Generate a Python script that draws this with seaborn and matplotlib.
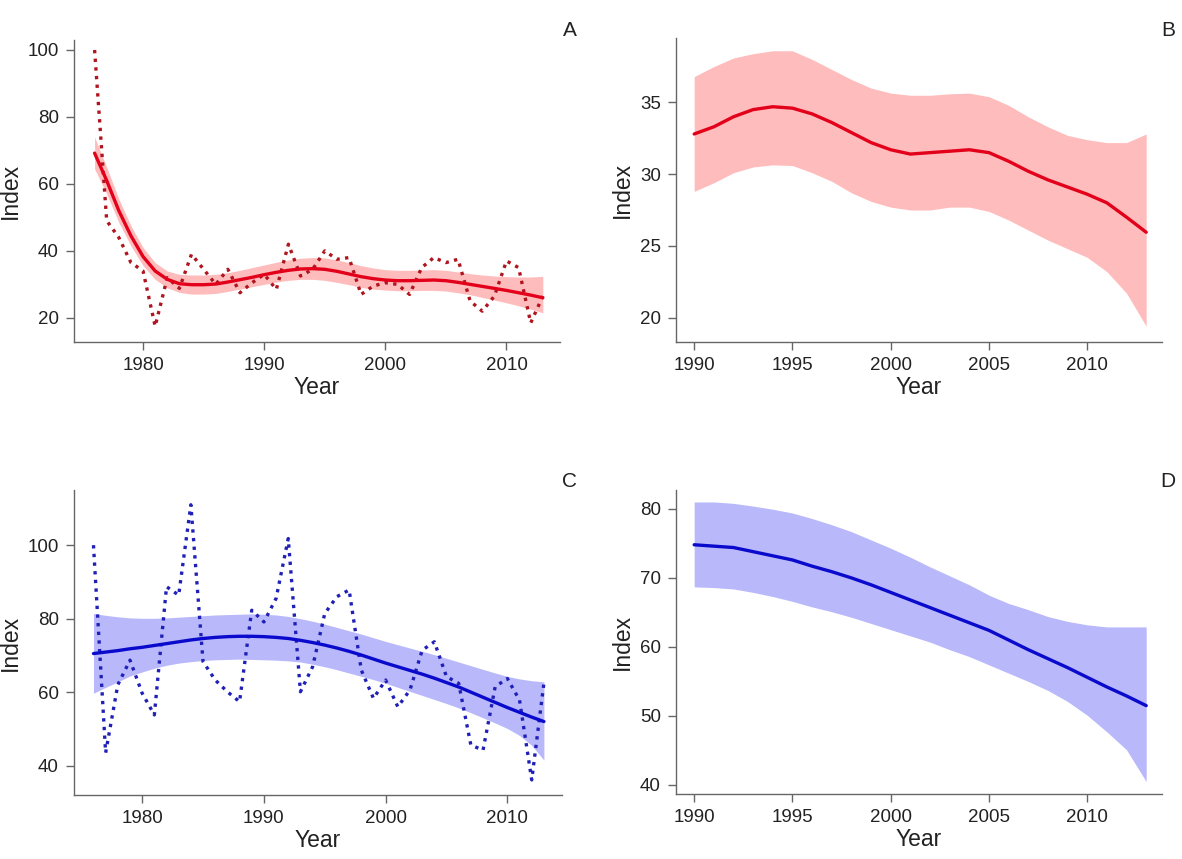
import numpy as np
import pandas as pd
import matplotlib.pyplot as plt
import seaborn as sns

sns.set_style('ticks')
plt.rcParams['font.family'] = ['Liberation Sans', 'DejaVu Sans']

years_all = list(range(1976, 2014))
years_late = list(range(1990, 2014))

# ---------------------- panel A (red, full series) ----------------------
a_obs = [100, 49, 44, 36.5, 34, 17.5, 32, 28.8, 39, 34.5, 30, 34.5, 27.5, 30.5, 33, 28.5,
         42, 32.5, 34.5, 40, 37.5, 38, 27, 29.5, 30.5, 30, 27, 35, 38, 36.5, 37.5, 25,
         22, 26.5, 37, 35, 18.5, 26.5]
a_fit = [69.2, 61, 52, 44.5, 38.3, 34, 31.5, 30.2, 29.9, 29.9, 30.1, 30.7, 31.4, 32.1, 32.9, 33.6,
         34.2, 34.6, 34.7, 34.5, 33.9, 33.1, 32.3, 31.7, 31.3, 31.1, 31.1, 31.2, 31.3, 31.1, 30.6, 30.0,
         29.4, 28.8, 28.2, 27.5, 26.8, 26.0]
a_hi = [74, 65, 55.5, 47.5, 41, 36.5, 34, 33, 32.8, 32.8, 33, 33.5, 34.2, 35, 35.8, 36.6,
        37.3, 37.8, 38, 37.9, 37.3, 36.5, 35.6, 34.9, 34.4, 34.2, 34.2, 34.3, 34.4, 34.2, 33.7, 33.2,
        32.8, 32.5, 32.3, 32.2, 32.2, 32.4]
a_lo = [64.5, 57, 48.5, 41.5, 35.6, 31.5, 29, 27.6, 27.1, 27.1, 27.3, 27.9, 28.6, 29.3, 30, 30.7,
        31.2, 31.5, 31.5, 31.2, 30.6, 29.9, 29.1, 28.6, 28.3, 28.1, 28.1, 28.2, 28.2, 28.0, 27.5, 26.9,
        26.1, 25.3, 24.5, 23.6, 22.6, 21.5]

# ---------------------- panel B (red, since 1990) ----------------------
b_fit = [32.8, 33.3, 34.0, 34.5, 34.7, 34.6, 34.2, 33.6, 32.9, 32.2, 31.7, 31.4,
         31.5, 31.6, 31.7, 31.5, 30.9, 30.2, 29.6, 29.1, 28.6, 28.0, 27.0, 25.95]
b_hi = [36.8, 37.5, 38.1, 38.4, 38.6, 38.6, 38.0, 37.3, 36.6, 36.0, 35.65, 35.5,
        35.5, 35.6, 35.65, 35.4, 34.8, 34.0, 33.3, 32.7, 32.4, 32.2, 32.2, 32.8]
b_lo = [28.8, 29.4, 30.1, 30.5, 30.65, 30.6, 30.1, 29.5, 28.7, 28.1, 27.7, 27.5,
        27.5, 27.7, 27.7, 27.4, 26.8, 26.1, 25.4, 24.8, 24.2, 23.2, 21.7, 19.4]

# ---------------------- panel C (blue, full series) ----------------------
c_obs = [100, 43.5, 62, 68.7, 59.7, 53.8, 88.7, 86.4, 111, 68.3, 63.3, 60.1, 57.4, 82.3, 79.1, 85.5,
         101.8, 60.1, 66.9, 81.4, 86, 87.8, 66, 58.3, 63.3, 56, 60.6, 71.4, 73.7, 64.2, 62.4, 45.6,
         44.2, 61.5, 63.7, 57.8, 36.1, 62.4]
c_fit = [70.5, 70.9, 71.3, 71.8, 72.2, 72.7, 73.2, 73.7, 74.2, 74.6, 74.9, 75.1, 75.2, 75.2, 75.1, 74.9,
         74.6, 74.1, 73.5, 72.8, 72.0, 71.1, 70.1, 69.0, 67.9, 66.9, 65.9, 64.9, 63.8, 62.6, 61.4, 60.0,
         58.6, 57.2, 55.8, 54.5, 53.2, 52.0]
c_hi = [81.4, 80.9, 80.5, 80.2, 80.1, 80.1, 80.2, 80.4, 80.6, 80.8, 81.0, 81.1, 81.2, 81.3, 81.2, 81.0,
        80.6, 80.0, 79.3, 78.5, 77.6, 76.7, 75.8, 74.8, 73.8, 72.9, 72.0, 71.1, 70.2, 69.2, 68.2, 67.2,
        66.2, 65.2, 64.3, 63.6, 63.1, 62.8]
c_lo = [59.7, 61.3, 62.8, 64.4, 65.5, 66.5, 67.3, 67.9, 68.3, 68.6, 68.8, 68.9, 69.0, 68.9, 68.8, 68.7,
        68.5, 68.2, 67.6, 66.9, 66.1, 65.2, 64.3, 63.4, 62.4, 61.3, 60.2, 59.1, 58.0, 56.9, 55.7, 54.4,
        53.0, 51.6, 50.1, 48.2, 45.5, 41.5]

# ---------------------- panel D (blue, since 1990) ----------------------
d_fit = [74.8, 74.6, 74.4, 73.8, 73.2, 72.6, 71.7, 70.9, 70.0, 69.0, 67.9, 66.8,
         65.7, 64.6, 63.5, 62.4, 61.0, 59.6, 58.3, 57.0, 55.6, 54.2, 52.9, 51.5]
d_hi = [81.0, 81.0, 80.8, 80.4, 79.95, 79.4, 78.6, 77.7, 76.7, 75.5, 74.3, 73.0,
        71.6, 70.3, 69.0, 67.5, 66.3, 65.4, 64.4, 63.7, 63.2, 62.9, 62.9, 62.9]
d_lo = [68.7, 68.6, 68.4, 67.9, 67.3, 66.6, 65.8, 65.1, 64.3, 63.4, 62.5, 61.6,
        60.7, 59.6, 58.6, 57.4, 56.2, 55.0, 53.7, 52.1, 50.1, 47.7, 45.1, 40.5]

RED, RED_BAND, RED_DOT = '#e3001b', '#ffbcbc', '#b0141e'
BLUE, BLUE_BAND, BLUE_DOT = '#0a0acc', '#b8b8fb', '#2020b8'

fig = plt.figure(figsize=(11.82, 8.59), dpi=100)
ax_a = fig.add_axes([0.0626, 0.6019, 0.411, 0.3516])
ax_b = fig.add_axes([0.572, 0.6019, 0.411, 0.354])
ax_c = fig.add_axes([0.0626, 0.0745, 0.413, 0.355])
ax_d = fig.add_axes([0.572, 0.0757, 0.411, 0.354])


def panel(ax, yrs, fit, lo, hi, line_col, band_col, obs=None, dot_col=None):
    ax.fill_between(yrs, lo, hi, color=band_col, linewidth=0, zorder=1)
    if obs is not None:
        sns.lineplot(x=yrs, y=obs, ax=ax, color=dot_col, linewidth=2.4,
                     linestyle=(0, (1, 1.6)), zorder=2)
    sns.lineplot(x=yrs, y=fit, ax=ax, color=line_col, linewidth=2.4, zorder=3)
    for s in ['top', 'right']:
        ax.spines[s].set_visible(False)
    for s in ['left', 'bottom']:
        ax.spines[s].set_color('#666666')
        ax.spines[s].set_linewidth(1.0)
    ax.tick_params(axis='both', direction='out', length=6, width=1, color='#666666',
                   labelsize=13.5, labelcolor='#222222', pad=5)
    ax.set_xlabel('Year', fontsize=16.5, color='#222222', labelpad=1)
    ax.set_ylabel('Index', fontsize=16.5, color='#222222', labelpad=4)


panel(ax_a, years_all, a_fit, a_lo, a_hi, RED, RED_BAND, a_obs, RED_DOT)
ax_a.set_xlim(1974.3, 2014.4)
ax_a.set_ylim(12.8, 103)
ax_a.set_xticks([1980, 1990, 2000, 2010])
ax_a.set_yticks([20, 40, 60, 80, 100])

panel(ax_b, years_late, b_fit, b_lo, b_hi, RED, RED_BAND)
ax_b.set_xlim(1989.08, 2013.8)
ax_b.set_ylim(18.3, 39.5)
ax_b.set_xticks([1990, 1995, 2000, 2005, 2010])
ax_b.set_yticks([20, 25, 30, 35])

panel(ax_c, years_all, c_fit, c_lo, c_hi, BLUE, BLUE_BAND, c_obs, BLUE_DOT)
ax_c.set_xlim(1974.4, 2014.5)
ax_c.set_ylim(32, 115)
ax_c.set_xticks([1980, 1990, 2000, 2010])
ax_c.set_yticks([40, 60, 80, 100])

panel(ax_d, years_late, d_fit, d_lo, d_hi, BLUE, BLUE_BAND)
ax_d.set_xlim(1989.08, 2013.8)
ax_d.set_ylim(38.7, 82.75)
ax_d.set_xticks([1990, 1995, 2000, 2005, 2010])
ax_d.set_yticks([40, 50, 60, 70, 80])

for lab, x, y in [('A', 0.482, 0.965), ('B', 0.988, 0.965), ('C', 0.482, 0.44), ('D', 0.988, 0.44)]:
    fig.text(x, y, lab, fontsize=15, color='#222222', ha='center', va='center')

fig.savefig('out.png', dpi=100)
